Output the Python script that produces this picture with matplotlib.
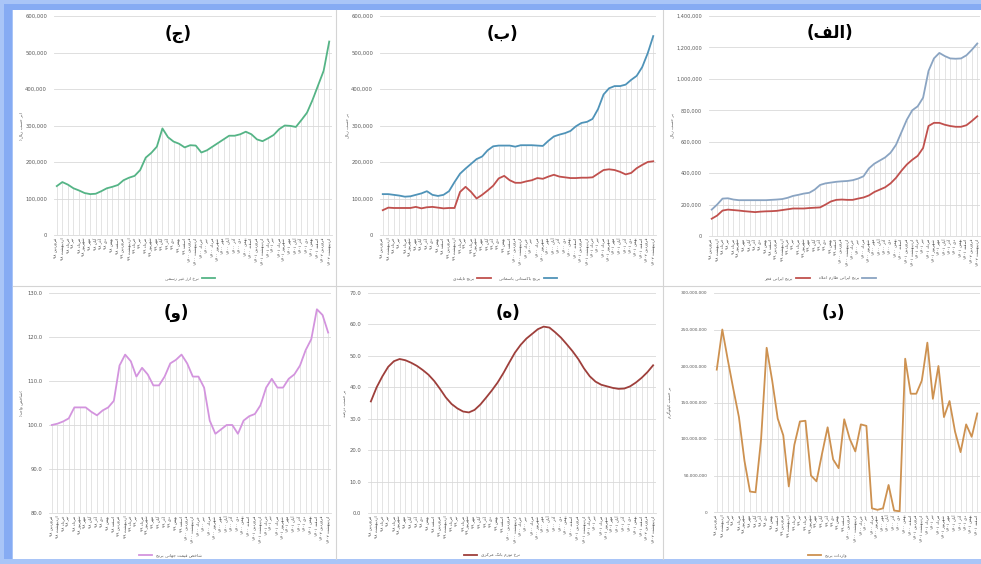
import numpy as np
import matplotlib.pyplot as plt
from matplotlib.patches import Rectangle
from matplotlib.ticker import FuncFormatter

# ---- data ----
months = ['فروردین', 'اردیبهشت', 'خرداد', 'تیر', 'مرداد', 'شهریور',
          'مهر', 'آبان', 'آذر', 'دی', 'بهمن', 'اسفند']
years = ['۹۸', '۹۹', '۱۴۰۰', '۱۴۰۱', '۱۴۰۲']
labels = [m + ' ' + y for y in years for m in months][:50]

# (ج) free-market exchange rate, rial
fx_rate = [134, 145, 138, 128, 122, 115, 112, 113, 120, 128, 132, 137, 150, 157, 162, 178, 212,
           225, 242, 292, 268, 256, 250, 240, 246, 245, 226, 232, 242, 252, 262, 272, 272, 276,
           283, 276, 262, 257, 265, 274, 290, 300, 299, 296, 315, 335, 370, 410, 450, 530]
# (ب) pakistani basmati / thai rice, rial
basmati = [112, 112, 110, 108, 105, 106, 110, 114, 120, 110, 107, 110, 120, 145, 168, 182, 195,
           208, 215, 232, 243, 245, 245, 245, 242, 246, 246, 246, 245, 244, 258, 270, 275, 279,
           285, 298, 307, 310, 318, 345, 385, 402, 408, 408, 412, 425, 436, 460, 498, 545]
thai = [68, 75, 74, 74, 74, 74, 77, 73, 76, 77, 75, 73, 74, 74, 118, 132, 118, 100, 110, 122,
        135, 155, 162, 150, 143, 143, 147, 150, 156, 154, 160, 165, 160, 158, 156, 156, 157, 157,
        158, 168, 178, 180, 178, 173, 166, 170, 183, 192, 200, 202]
# (الف) iranian rice, rial
tarom = [168, 200, 238, 240, 232, 228, 228, 228, 228, 228, 228, 230, 232, 235, 243, 255, 262,
         270, 275, 295, 325, 335, 340, 345, 348, 350, 355, 365, 380, 430, 460, 480, 500, 530,
         580, 660, 740, 800, 825, 880, 1050, 1130, 1165, 1145, 1130, 1128, 1130, 1150, 1185, 1225]
fajr = [110, 130, 162, 168, 165, 162, 158, 155, 152, 155, 157, 158, 160, 165, 170, 175, 175,
        175, 178, 180, 182, 200, 220, 230, 232, 230, 230, 238, 245, 258, 280, 295, 310, 335,
        370, 415, 455, 485, 510, 560, 700, 720, 720, 708, 700, 695, 695, 705, 732, 762]
# (و) world rice price index
rice_index = [100.0, 100.3, 100.8, 101.5, 104.0, 104.0, 104.0, 103.0, 102.2, 103.3, 104.0,
              105.5, 113.5, 116.0, 114.5, 111.0, 113.0, 111.5, 109.0, 109.0, 111.0, 114.0,
              114.8, 116.0, 114.0, 111.0, 111.0, 108.5, 101.0, 98.0, 99.0, 100.0, 100.0, 98.0,
              101.0, 102.0, 102.5, 104.5, 108.5, 110.5, 108.5, 108.5, 110.5, 111.5, 113.5,
              117.0, 119.5, 126.3, 125.0, 121.0]
# (ه) inflation rate, percent
inflation = [35.5, 40.0, 43.5, 46.5, 48.3, 49.0, 48.6, 47.8, 46.8, 45.5, 44.0, 42.0, 39.5, 36.8,
             34.7, 33.3, 32.3, 32.0, 32.8, 34.5, 36.7, 39.0, 41.5, 44.5, 47.8, 51.0, 53.5, 55.5,
             57.0, 58.5, 59.3, 59.0, 57.5, 55.8, 53.7, 51.5, 49.0, 46.0, 43.5, 41.8, 40.8, 40.3,
             39.8, 39.5, 39.6, 40.3, 41.5, 43.0, 44.8, 47.0]
# (د) rice imports, million kg
imports = [195, 250, 208, 168, 130, 70, 28, 27, 100, 225, 180, 128, 105, 35, 92, 124, 125, 50,
           42, 80, 116, 72, 60, 127, 100, 83, 120, 118, 5, 3, 5, 37, 2, 1, 210, 162, 162, 180,
           232, 155, 200, 130, 152, 110, 82, 120, 103, 135]

W, H = 981, 564

# ---- minimal persian shaping (matplotlib has no bidi/shaping) ----
FORMS = {
    'ا': (0xFE8D, False), 'آ': (0xFE81, False), 'ب': (0xFE8F, True), 'پ': (0xFB56, True),
    'ت': (0xFE95, True), 'ث': (0xFE99, True), 'ج': (0xFE9D, True), 'چ': (0xFB7A, True),
    'ح': (0xFEA1, True), 'خ': (0xFEA5, True), 'د': (0xFEA9, False), 'ذ': (0xFEAB, False),
    'ر': (0xFEAD, False), 'ز': (0xFEAF, False), 'ژ': (0xFB8A, False), 'س': (0xFEB1, True),
    'ش': (0xFEB5, True), 'ص': (0xFEB9, True), 'ض': (0xFEBD, True), 'ط': (0xFEC1, True),
    'ظ': (0xFEC5, True), 'ع': (0xFEC9, True), 'غ': (0xFECD, True), 'ف': (0xFED1, True),
    'ق': (0xFED5, True), 'ک': (0xFB8E, True), 'گ': (0xFB92, True), 'ل': (0xFEDD, True),
    'م': (0xFEE1, True), 'ن': (0xFEE5, True), 'ه': (0xFEE9, True), 'و': (0xFEED, False),
    'ی': (0xFBFC, True), 'ء': (0xFE80, None),
}


def shape_word(w):
    if not any(c in FORMS for c in w):
        return w
    out = []
    i = 0
    while i < len(w):
        c = w[i]
        if c not in FORMS:
            out.append(c)
            i += 1
            continue
        prev = w[i - 1] if i > 0 else ''
        jp = prev in FORMS and FORMS[prev][1] is True and FORMS[c][1] is not None
        if c == 'ل' and i + 1 < len(w) and w[i + 1] in 'اآ':
            base = 0xFEFB if w[i + 1] == 'ا' else 0xFEF5
            out.append(chr(base + int(jp)))
            i += 2
            continue
        nxt = w[i + 1] if i + 1 < len(w) else ''
        jn = FORMS[c][1] is True and nxt in FORMS and FORMS[nxt][1] is not None
        f = 3 if (jp and jn) else 2 if jn else 1 if jp else 0
        out.append(chr(FORMS[c][0] + f))
        i += 1
    return ''.join(reversed(out))


def fa(text):
    return ' '.join(shape_word(w) for w in reversed(text.split()))


def axes_px(l, t, r, b):
    return fig.add_axes([l / W, 1 - b / H, (r - l) / W, (b - t) / H])


plt.rcParams['font.family'] = ['DejaVu Sans']
fig = plt.figure(figsize=(W / 100, H / 100), dpi=100)
fig.patch.set_facecolor('white')

# blue frame around the screenshot
for x0, y0, w0, h0, c in [(0, 0, 13, H, '#A9C5F7'), (0, 0, W, 10, '#A9C5F7'),
                          (4, 4, 8, H, '#86ABF3'), (4, 4, W, 6, '#86ABF3'),
                          (0, 559, W, 5, '#A9C5F7')]:
    fig.add_artist(Rectangle((x0 / W, 1 - (y0 + h0) / H), w0 / W, h0 / H,
                             transform=fig.transFigure, color=c, lw=0, zorder=0))
# panel separators
for x in [336, 663]:
    fig.add_artist(plt.Line2D([x / W, x / W], [1 - 10 / H, 1 - 559 / H],
                              transform=fig.transFigure, color='#D4D4D4', lw=0.8))
fig.add_artist(plt.Line2D([13 / W, 1], [1 - 286 / H, 1 - 286 / H],
                          transform=fig.transFigure, color='#D4D4D4', lw=0.8))

comma = FuncFormatter(lambda v, p: f'{v:,.0f}')
dec1 = FuncFormatter(lambda v, p: f'{v:.1f}')


def panel(box, series, ymax, ystep, fmt, title, tpos, ylabel, ylx, legpos, scale=1.0,
          ymin=0, leg_right=True, ysize=3.8):
    l, t, r, b = box
    ax = axes_px(l, t, r, b)
    n = len(series[0][0])
    x = np.arange(n)
    top = np.max([np.array(s[0]) for s in series], axis=0) * scale
    ax.vlines(x, ymin, top, color='#D9D9D9', lw=0.5, zorder=1)
    for vals, color, name in series:
        ax.plot(x, np.array(vals) * scale, color=color, lw=1.3, label=fa(name), zorder=3,
                solid_joinstyle='round')
    ax.set_xlim(-0.5, n - 0.5)
    ax.set_ylim(ymin, ymax)
    ax.set_yticks(np.arange(ymin, ymax + ystep / 2, ystep))
    ax.yaxis.set_major_formatter(fmt)
    ax.grid(axis='y', color='#D9D9D9', lw=0.6, zorder=0)
    ax.set_axisbelow(True)
    for s in ['top', 'right', 'left']:
        ax.spines[s].set_visible(False)
    ax.spines['bottom'].set_color('#D9D9D9')
    ax.spines['bottom'].set_linewidth(0.6)
    ax.set_xticks(x)
    ax.set_xticklabels([fa(s) for s in labels[:n]], rotation=90, fontsize=3.0, color='#404040')
    ax.tick_params(length=0, pad=2)
    ax.tick_params(axis='y', labelsize=ysize, labelcolor='#595959', pad=5)
    fig.text(tpos[0] / W, 1 - tpos[1] / H, title, fontsize=12, fontweight='bold',
             ha='center', va='center')
    fig.text(ylx / W, 1 - (t + b) / 2 / H, fa(ylabel), rotation=90, fontsize=3.2,
             color='#595959', ha='center', va='center')
    ax.legend(loc='center', bbox_to_anchor=(legpos[0] / W, 1 - legpos[1] / H),
              bbox_transform=fig.transFigure, ncol=len(series), frameon=False,
              fontsize=3.2, handlelength=3, markerfirst=not leg_right,
              labelcolor='#595959', columnspacing=2)
    return ax


panel((54, 16, 332, 235), [(fx_rate, '#55B486', 'نرخ ارز غیر رسمی')], 600000, 100000, comma,
      '(' + shape_word('ج') + ')', (178, 34), '(بر حسب ریال)', 21, (190, 278), scale=1000)
panel((380, 16, 656, 235), [(thai, '#C0504D', 'برنج تایلندی'),
                            (basmati, '#4F93B8', 'برنج پاکستانی باسماتی')],
      600000, 100000, comma, '(' + shape_word('ب') + ')', (502, 34), 'بر حسب ریال', 347,
      (505, 278), scale=1000)
panel((709, 16, 980, 236), [(fajr, '#C0504D', 'برنج ایرانی فجر'),
                            (tarom, '#8AA4C2', 'برنج ایرانی طارم اعلاء')],
      1400000, 200000, comma, '(' + shape_word('الف') + ')', (830, 33), 'بر حسب ریال', 672,
      (820, 278), scale=1000, ysize=3.6)
panel((49, 293, 331, 513), [(rice_index, '#D394DE', 'شاخص قیمت جهانی برنج')], 130, 10, dec1,
      '(' + shape_word('و') + ')', (176, 313), '(شاخص واحد)', 21, (170, 555), ymin=80,
      leg_right=False)
panel((368, 293, 656, 513), [(inflation, '#9E3F3B', 'نرخ تورم بانک مرکزی')], 70, 10, dec1,
      '(' + shape_word('ه') + ')', (508, 313), 'بر حسب درصد', 345, (492, 555), leg_right=False)
panel((714, 293, 980, 512), [(imports, '#CD9150', 'واردات برنج')], 300000000, 50000000, comma,
      '(' + shape_word('د') + ')', (833, 313), 'بر حسب کیلوگرم', 670, (827, 555),
      scale=1000000, leg_right=False, ysize=3.1)

fig.savefig('out.png', dpi=100)
